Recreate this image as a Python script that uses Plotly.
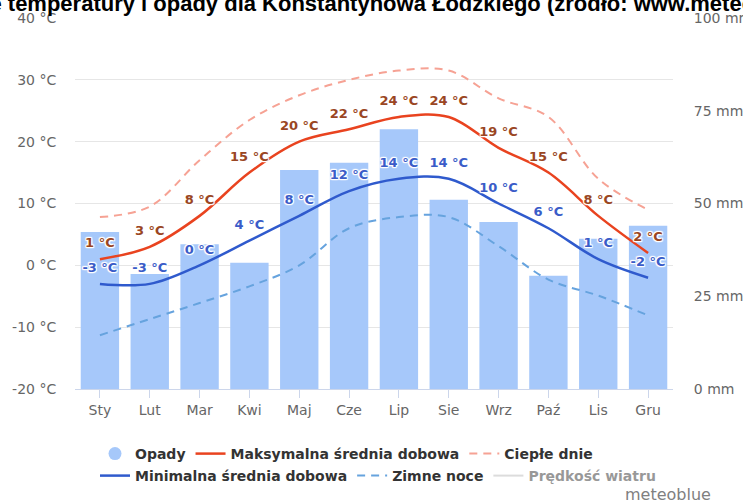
import plotly.graph_objects as go

months = ["Sty", "Lut", "Mar", "Kwi", "Maj", "Cze", "Lip", "Sie", "Wrz", "Paź", "Lis", "Gru"]
precip_mm = [42.3, 31, 39, 34, 59, 61, 70, 51, 45, 30.5, 40.5, 44]
max_temp = [1, 3, 8, 15, 20, 22, 24, 24, 19, 15, 8, 2]
min_temp = [-3, -3, 0, 4, 8, 12, 14, 14, 10, 6, 1, -2]
warm_days = [7.8, 9.5, 17, 23.5, 27.5, 30, 31.5, 31.5, 27, 24, 14, 9]
cold_nights = [-11.3, -8.7, -6.1, -3.4, 0, 6, 7.8, 7.8, 3.1, -2.3, -4.9, -8.1]
temp_ticks = [-20, -10, 0, 10, 20, 30, 40]
precip_ticks = [0, 25, 50, 75, 100]

temp_tick_labels = [f"{t} °C" for t in temp_ticks]
precip_tick_labels = [f"{p} mm" for p in precip_ticks]
max_labels = [f"{v} °C" for v in max_temp]
min_labels = [f"{v} °C" for v in min_temp]

FONT = "DejaVu Sans"
halo = ("1px 1px 1px #fff, -1px -1px 1px #fff, 1px -1px 1px #fff, -1px 1px 1px #fff, "
        "0 1px 1px #fff, 0 -1px 1px #fff, 1px 0 1px #fff, -1px 0 1px #fff")

fig = go.Figure()

# precipitation bars on the main (right-side) axis so they sit underneath the lines
fig.add_trace(go.Bar(
    x=months, y=precip_mm, yaxis="y", name="Opady",
    marker=dict(color="#a6c8fa", line=dict(width=0)),
    showlegend=False,
))

fig.add_trace(go.Scatter(
    x=months, y=warm_days, yaxis="y2", mode="lines", name="Ciepłe dnie",
    line=dict(color="#f6a294", width=2, dash="8px,6px", shape="spline"),
    showlegend=False,
))
fig.add_trace(go.Scatter(
    x=months, y=cold_nights, yaxis="y2", mode="lines", name="Zimne noce",
    line=dict(color="#66a3de", width=2, dash="8px,6px", shape="spline"),
    showlegend=False,
))
fig.add_trace(go.Scatter(
    x=months, y=max_temp, yaxis="y2", mode="lines+markers+text", name="Maksymalna średnia dobowa",
    line=dict(color="#e9431f", width=2.5, shape="spline"),
    marker=dict(size=12, opacity=0),
    text=max_labels, textposition="top center",
    textfont=dict(family=FONT, size=13, color="#9a4623", weight="bold", shadow=halo),
    showlegend=False,
))
fig.add_trace(go.Scatter(
    x=months, y=min_temp, yaxis="y2", mode="lines+markers+text", name="Minimalna średnia dobowa",
    line=dict(color="#2f5acd", width=2.5, shape="spline"),
    marker=dict(size=12, opacity=0),
    text=min_labels, textposition="top center",
    textfont=dict(family=FONT, size=13, color="#3a5cc8", weight="bold", shadow=halo),
    showlegend=False,
))

# legend entries (row 1)
fig.add_trace(go.Scatter(x=[None], y=[None], yaxis="y2", mode="markers", name="Opady",
                         marker=dict(color="#a6c8fa", size=13, symbol="circle"), legend="legend"))
fig.add_trace(go.Scatter(x=[None], y=[None], yaxis="y2", mode="lines", name="Maksymalna średnia dobowa",
                         line=dict(color="#e9431f", width=2.5), legend="legend"))
fig.add_trace(go.Scatter(x=[None], y=[None], yaxis="y2", mode="lines", name="Ciepłe dnie",
                         line=dict(color="#f6a294", width=2, dash="8px,6px"), legend="legend"))
# legend entries (row 2)
fig.add_trace(go.Scatter(x=[None], y=[None], yaxis="y2", mode="lines", name="Minimalna średnia dobowa",
                         line=dict(color="#2f5acd", width=2.5), legend="legend2"))
fig.add_trace(go.Scatter(x=[None], y=[None], yaxis="y2", mode="lines", name="Zimne noce",
                         line=dict(color="#66a3de", width=2, dash="8px,6px"), legend="legend2"))
fig.add_trace(go.Scatter(x=[None], y=[None], yaxis="y2", mode="lines", name="Prędkość wiatru",
                         line=dict(color="#bbbbbb", width=2), legend="legend2",
                         visible="legendonly"))

L, R, T, B = 75, 70, 18, 114
plot_w = 743 - L - R
plot_h = 503 - T - B

def px_x(px):
    return (px - L) / plot_w

def px_y(py):
    return (503 - B - py) / plot_h

legend_font = dict(family=FONT, size=14, color="#333333", weight="bold")

fig.update_layout(
    width=743, height=503,
    margin=dict(l=L, r=R, t=T, b=B, autoexpand=False),
    paper_bgcolor="white", plot_bgcolor="white",
    bargap=0.23,
    font=dict(family=FONT, size=14, color="#666666"),
    xaxis=dict(
        type="category", range=[-0.5, 11.5], automargin=False,
        showgrid=False, showline=True, linecolor="#ccd6eb", linewidth=1,
        ticks="outside", ticklen=8, tickcolor="#ccd6eb",
        tickfont=dict(family=FONT, size=14, color="#666666"),
        zeroline=False, fixedrange=True,
    ),
    yaxis=dict(
        range=[0, 100], tickvals=precip_ticks, ticktext=precip_tick_labels,
        side="right", showgrid=False, zeroline=False, automargin=False,
        ticks="outside", ticklen=17, tickcolor="rgba(0,0,0,0)",
        tickfont=dict(family=FONT, size=14, color="#666666"),
    ),
    yaxis2=dict(
        range=[-20, 40], tickvals=temp_ticks, ticktext=temp_tick_labels,
        overlaying="y", side="left", automargin=False,
        showgrid=True, gridcolor="#e6e6e6", gridwidth=1, zeroline=False,
        ticks="outside", ticklen=15, tickcolor="rgba(0,0,0,0)",
        tickfont=dict(family=FONT, size=14, color="#666666"),
        showline=False,
    ),
    legend=dict(
        orientation="h", x=px_x(95), xanchor="left", y=px_y(454), yanchor="middle",
        font=legend_font, bgcolor="rgba(0,0,0,0)", itemclick=False, itemdoubleclick=False,
        tracegroupgap=0,
    ),
    legend2=dict(
        orientation="h", x=px_x(95), xanchor="left", y=px_y(476), yanchor="middle",
        font=legend_font, bgcolor="rgba(0,0,0,0)", itemclick=False, itemdoubleclick=False,
        tracegroupgap=0,
    ),
    annotations=[
        dict(text="<b>Średnie temperatury i opady dla Konstantynowa Łódzkiego (źródło: www.meteoblue.com)</b>",
             xref="paper", yref="paper", x=px_x(390), y=px_y(3), xanchor="center", yanchor="middle",
             showarrow=False, font=dict(family="Liberation Sans", size=22, color="#000000")),
        dict(text="meteoblue", xref="paper", yref="paper", x=px_x(713), y=px_y(495),
             xanchor="right", yanchor="middle", showarrow=False,
             font=dict(family=FONT, size=16, color="#808080")),
    ],
    showlegend=True,
    hovermode=False,
)

fig.write_html("out.html", config={"displayModeBar": False},
               post_script="document.body.style.margin='0';document.body.style.overflow='hidden';")
